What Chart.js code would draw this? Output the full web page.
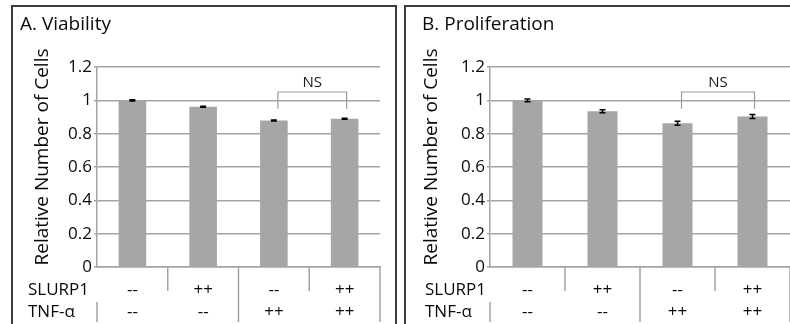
<!DOCTYPE html>
<html>
<head>
<meta charset="utf-8">
<script src="https://cdn.jsdelivr.net/npm/chart.js@4/dist/chart.umd.min.js"></script>
<style>
  html, body { margin: 0; padding: 0; background: #fff; }
  body { width: 790px; height: 324px; position: relative; overflow: hidden; }
  .panel { position: absolute; top: 5px; border: 2px solid #3c3c3c; border-bottom: none; box-sizing: border-box; }
  #pa { left: 11px; width: 386px; height: 330px; }
  #pb { left: 404px; width: 400px; height: 330px; }
  .wrap { position: absolute; top: 7px; height: 317px; }
  #wa { left: 13px; width: 382px; }
  #wb { left: 406px; width: 384px; }
</style>
</head>
<body>
<div class="panel" id="pa"></div>
<div class="panel" id="pb"></div>
<div class="wrap" id="wa"><canvas id="ca"></canvas></div>
<div class="wrap" id="wb"><canvas id="cb"></canvas></div>
<script>
// ---- data ----
const slurp1Row = ['--', '++', '--', '++'];
const tnfRow = ['--', '--', '++', '++'];
const rowNames = ['SLURP1', 'TNF-\u03b1'];
const yTickLabels = ['0', '0.2', '0.4', '0.6', '0.8', '1', '1.2'];

const viabilityTitle = 'A. Viability';
const viabilityValues = [1.0, 0.962, 0.879, 0.890];
const viabilityErrors = [0.004, 0.003, 0.003, 0.003];

const prolifTitle = 'B. Proliferation';
const prolifValues = [1.0, 0.934, 0.863, 0.903];
const prolifErrors = [0.008, 0.009, 0.012, 0.012];

const yAxisTitle = 'Relative Number of Cells';
const nsLabel = 'NS';
const nsFrom = 2, nsTo = 3;
const nsTop = 1.05, nsBottom = 0.95, nsTextAt = 1.105;

const FONT = "'Open Sans', sans-serif";
const TEXT = '#0a0a0a';
const GRID = '#a4a4a4';

const labels = slurp1Row.map((s, i) => [s, tnfRow[i]]);

const extrasPlugin = {
  id: 'extras',
  afterDatasetsDraw(chart, args, opts) {
    const ctx = chart.ctx;
    const xs = chart.scales.x, ys = chart.scales.y;
    const ca = chart.chartArea;
    const errs = opts.errors;
    const vals = chart.data.datasets[0].data;
    ctx.save();
    // error bars
    ctx.strokeStyle = '#000';
    ctx.lineWidth = 1.5;
    vals.forEach((v, i) => {
      const x = xs.getPixelForValue(i);
      const yh = ys.getPixelForValue(v + errs[i]);
      const yl = ys.getPixelForValue(v - errs[i]);
      ctx.beginPath();
      ctx.moveTo(x, yh); ctx.lineTo(x, yl);
      ctx.moveTo(x - 3, yh); ctx.lineTo(x + 3, yh);
      ctx.moveTo(x - 3, yl); ctx.lineTo(x + 3, yl);
      ctx.stroke();
    });
    // NS bracket
    const x1 = xs.getPixelForValue(nsFrom) + 4, x2 = xs.getPixelForValue(nsTo) + 2;
    const yt = ys.getPixelForValue(nsTop), yb = ys.getPixelForValue(nsBottom);
    ctx.strokeStyle = '#9c9c9c';
    ctx.lineWidth = 1.2;
    ctx.beginPath();
    ctx.moveTo(x1, yb); ctx.lineTo(x1, yt); ctx.lineTo(x2, yt); ctx.lineTo(x2, yb);
    ctx.stroke();
    ctx.fillStyle = '#1a1a1a';
    ctx.font = '15px ' + FONT;
    ctx.textAlign = 'center';
    ctx.textBaseline = 'middle';
    ctx.fillText(nsLabel, (x1 + x2) / 2, ys.getPixelForValue(nsTextAt));

    // category separators (multi-level axis)
    const n = vals.length;
    const bound = (i) => (xs.getPixelForValue(i - 1) + xs.getPixelForValue(i)) / 2;
    const lh = 22;
    const row1 = ca.bottom + 12 + lh / 2;
    const row2 = row1 + lh;
    ctx.strokeStyle = GRID;
    ctx.lineWidth = 1.5;
    for (let i = 0; i <= n; i++) {
      const x = i === 0 ? ca.left : (i === n ? ca.right : bound(i));
      let y0 = ca.bottom, y1;
      if (i === 0) { y0 = row2 - 10; y1 = chart.height - 2; }
      else if (tnfRow[i - 1] !== tnfRow[i] || i === n) { y1 = chart.height - 2; }
      else { y1 = row1 + 1; }
      ctx.beginPath();
      ctx.moveTo(x, y0); ctx.lineTo(x, y1);
      ctx.stroke();
    }
    // row names
    ctx.fillStyle = TEXT;
    ctx.font = '17px ' + FONT;
    ctx.textAlign = 'left';
    ctx.fillText(rowNames[0], ca.left - opts.rowNameDx, row1);
    ctx.fillText(rowNames[1], ca.left - opts.rowNameDx, row2);

    // y axis title
    ctx.save();
    ctx.translate(ca.left - opts.yTitleDx, (ca.top + ca.bottom) / 2 - 10);
    ctx.rotate(-Math.PI / 2);
    ctx.font = '19px ' + FONT;
    ctx.textAlign = 'center';
    ctx.textBaseline = 'middle';
    ctx.fillText(yAxisTitle, 0, 0);
    ctx.restore();
    ctx.restore();
  }
};

function makeChart(canvasId, title, values, errors, cfg) {
  return new Chart(document.getElementById(canvasId), {
    type: 'bar',
    data: {
      labels: labels,
      datasets: [{
        data: values,
        backgroundColor: '#a6a6a6',
        borderWidth: 0,
        barPercentage: cfg.barPct,
        categoryPercentage: 1.0
      }]
    },
    plugins: [extrasPlugin],
    options: {
      responsive: true,
      maintainAspectRatio: false,
      animation: false,
      events: [],
      layout: { padding: { left: cfg.padLeft, right: cfg.padRight, top: 0, bottom: 0 } },
      plugins: {
        legend: { display: false },
        tooltip: { enabled: false },
        title: {
          display: true,
          text: title,
          align: 'start',
          color: TEXT,
          font: { family: FONT, size: 19, weight: 'normal', lineHeight: 1.2 },
          padding: { top: 6.6, bottom: 30.6 }
        },
        extras: { errors: errors, rowNameDx: cfg.rowNameDx, yTitleDx: cfg.yTitleDx }
      },
      scales: {
        x: {
          grid: { display: false, drawTicks: false },
          border: { display: true, color: GRID, width: 1.5 },
          ticks: {
            color: TEXT,
            padding: 12,
            maxRotation: 0,
            autoSkip: false,
            font: { family: FONT, size: 17, lineHeight: 22 / 17 }
          },
          afterFit(s) { s.height = 57; }
        },
        y: {
          min: 0, max: 1.2,
          grid: { color: GRID, lineWidth: 1.5, tickLength: 3 },
          border: { display: true, color: GRID, width: 1.5 },
          ticks: {
            stepSize: 0.2,
            padding: 2,
            color: TEXT,
            font: { family: FONT, size: 17 },
            callback: (v, i) => yTickLabels[i]
          },
          afterFit(s) { s.width = cfg.yWidth; }
        }
      }
    }
  });
}

makeChart('ca', viabilityTitle, viabilityValues, viabilityErrors,
  { padLeft: 7, padRight: 15, yWidth: 77, barPct: 0.39, rowNameDx: 69, yTitleDx: 54 });
makeChart('cb', prolifTitle, prolifValues, prolifErrors,
  { padLeft: 16, padRight: 0, yWidth: 68, barPct: 0.40, rowNameDx: 65, yTitleDx: 58 });
</script>
</body>
</html>
